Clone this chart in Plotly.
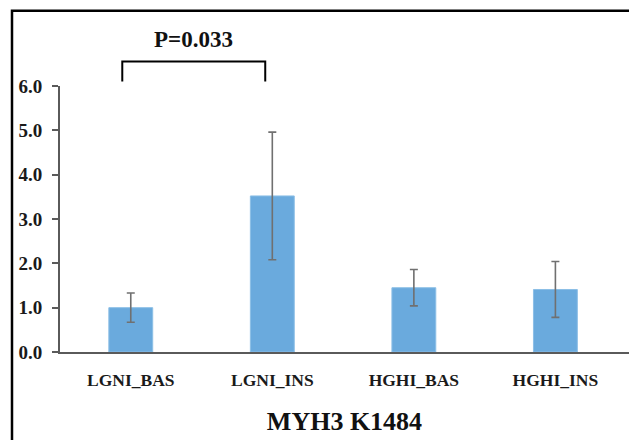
import plotly.graph_objects as go

categories = ["LGNI_BAS", "LGNI_INS", "HGHI_BAS", "HGHI_INS"]
values = [1.00, 3.52, 1.45, 1.41]
errors = [0.33, 1.44, 0.41, 0.63]
y_ticks = [0, 1, 2, 3, 4, 5, 6]
y_tick_labels = ["0.0", "1.0", "2.0", "3.0", "4.0", "5.0", "6.0"]
p_label = "P=0.033"
title = "MYH3 K1484"

W, H = 629, 440
L, T, B = 60, 85.5, 88
plot_h = H - T - B

FONT = "Liberation Serif, Times New Roman, serif"
AXC = "#5a5a5a"

fig = go.Figure()
fig.add_trace(go.Bar(
    x=list(range(len(categories))), y=values,
    width=0.31,
    marker=dict(color="#6aaadd", line=dict(color="#8cbfe6", width=1)),
    error_y=dict(type="data", array=errors, visible=True, color="#707070", thickness=1.6, width=4),
    hoverinfo="skip",
))

def py(pix):
    return (H - B - pix) / plot_h

# significance bracket between category 0 and 1
bx0, bx1 = 0 - 0.06, 1 - 0.05
fig.add_shape(type="path", xref="x", yref="paper",
              path=f"M {bx0},{py(81)} L {bx0},{py(61)} L {bx1},{py(61)} L {bx1},{py(81)}",
              line=dict(color="black", width=2))
fig.add_annotation(x=(bx0 + bx1) / 2, y=py(39), xref="x", yref="paper", text=p_label,
                   xanchor="center", yanchor="middle",
                   showarrow=False, font=dict(family=FONT, size=23, color="#111", weight="bold"))

# outer frame (left and top edges; right and bottom fall outside the picture)
fx = (12 - L) / (W - L)
fig.add_shape(type="rect", xref="paper", yref="paper", x0=fx, x1=1.5, y0=py(H + 30), y1=py(10),
              line=dict(color="black", width=2.5), fillcolor="rgba(0,0,0,0)", layer="below")

fig.update_layout(
    width=W, height=H,
    margin=dict(l=L, r=0, t=T, b=B),
    paper_bgcolor="white", plot_bgcolor="white",
    showlegend=False, hovermode=False,
    font=dict(family=FONT, color="#1a1a1a"),
    xaxis=dict(
        range=[-0.5, 3.52],
        tickmode="array", tickvals=list(range(len(categories))), ticktext=categories,
        showline=True, linecolor=AXC, linewidth=2, ticks="", showgrid=False, zeroline=False,
        tickfont=dict(family=FONT, size=17.5, color="#1a1a1a", weight="bold"),
        ticklabelstandoff=11,
        title=dict(text=title, font=dict(family=FONT, size=26, color="#111", weight="bold"), standoff=23),
    ),
    yaxis=dict(
        range=[0, 6],
        tickmode="array", tickvals=y_ticks, ticktext=y_tick_labels,
        showline=True, linecolor=AXC, linewidth=2, ticks="outside", ticklen=6, tickwidth=2, tickcolor=AXC,
        showgrid=False, zeroline=False,
        tickfont=dict(family=FONT, size=19, color="#1a1a1a", weight="bold"),
        ticklabelstandoff=6,
    ),
)

fig.write_html("out.html", config={"displayModeBar": False, "staticPlot": True},
               post_script="document.body.style.margin='0';document.body.style.overflow='hidden';")
